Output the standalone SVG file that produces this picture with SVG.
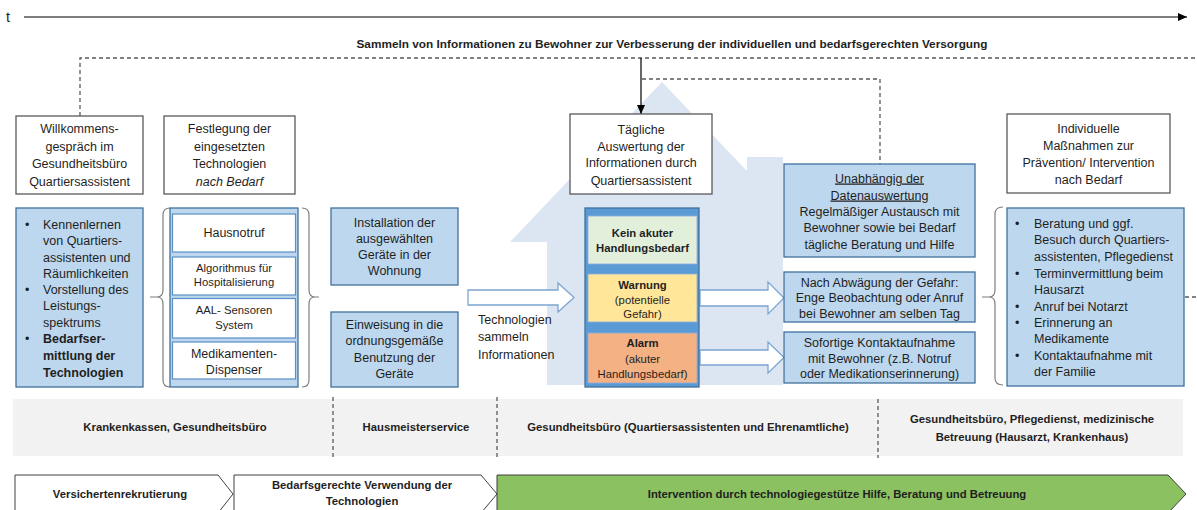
<svg xmlns="http://www.w3.org/2000/svg" width="1197" height="510" viewBox="0 0 1197 510">
<defs>
<style>
text{font-family:"Liberation Sans",Arial,sans-serif;fill:#1f1f1f;font-size:12.5px}
.c{text-anchor:middle}
.b{font-weight:bold}
.sm{font-size:11.3px}
.bt{font-size:11.3px;font-weight:bold;text-anchor:middle}
.wbox{fill:#fff;stroke:#595959;stroke-width:1.3}
.bbox{fill:#BDD7EE;stroke:#41719C;stroke-width:1.3}
.ibox{fill:#fff;stroke:#5B8FC7;stroke-width:1.2}
.dash{fill:none;stroke:#595959;stroke-width:1.3;stroke-dasharray:4 3}
.brace{fill:none;stroke:#7F7F7F;stroke-width:1.2}
.harrow{fill:#fff;stroke:#7CA5D1;stroke-width:1.3}
.chev{fill:#fff;stroke:#404040;stroke-width:1}
</style>
<marker id="ah" markerWidth="10" markerHeight="10" refX="9" refY="5" orient="auto" markerUnits="userSpaceOnUse">
<path d="M0,1 L9,5 L0,9 Z" fill="#000"/>
</marker>
</defs>

<!-- house background -->
<path d="M662,82 L510,242 L547,242 L547,385 L783,385 L783,157 L747,157 L747,171 Z" fill="#DCE6F2"/>

<!-- timeline -->
<g id="timeline">
<text x="6" y="22" style="font-size:14.5px">t</text>
<line x1="24" y1="17" x2="1187" y2="17" stroke="#000" stroke-width="1.2" marker-end="url(#ah)"/>
</g>

<text x="672" y="48" class="b c" style="font-size:11px" textLength="631" lengthAdjust="spacingAndGlyphs">Sammeln von Informationen zu Bewohner zur Verbesserung der individuellen und bedarfsgerechten Versorgung</text>

<!-- connectors -->
<g id="connectors">
<path class="dash" d="M80,116 L80,58 L1197,58"/>
<path class="dash" d="M642,79 L880,79 L880,164"/>
<line x1="641" y1="58" x2="641" y2="114" stroke="#000" stroke-width="1.2" marker-end="url(#ah)"/>
<path class="dash" d="M1185,297 L1197,297"/>
<path class="brace" d="M170,208 Q163,208 163,215 L163,290 Q163,297 157,297 L150,297 M157,297 Q163,297 163,304 L163,380 Q163,387 170,387"/>
<path class="brace" d="M302,208 Q309,208 309,215 L309,290 Q309,297 315,297 L319,297 M315,297 Q309,297 309,304 L309,380 Q309,387 302,387"/>
<path class="brace" d="M1003,207 Q995,207 995,214 L995,290 Q995,297 989,297 L982,297 M989,297 Q995,297 995,304 L995,378 Q995,385 1003,385"/>
<path class="harrow" d="M468,290 L558,290 L558,283 L574,297.5 L558,312 L558,305 L468,305 Z"/>
<path class="harrow" d="M700,290 L768,290 L768,282 L784,298 L768,314 L768,306 L700,306 Z"/>
<path class="harrow" d="M700,350 L768,350 L768,342 L784,357.5 L768,373 L768,365 L700,365 Z"/>
</g>

<!-- top row -->
<g id="willkommen">
<rect class="wbox" x="16" y="116" width="127" height="78"/>
<text class="c" x="79.5" y="133">Willkommens-</text>
<text class="c" x="79.5" y="150.5">gespräch im</text>
<text class="c" x="79.5" y="168">Gesundheitsbüro</text>
<text class="c" x="79.5" y="185.5">Quartiersassistent</text>
</g>
<g id="festlegung">
<rect class="wbox" x="164" y="116" width="131" height="78"/>
<text class="c" x="229.5" y="133">Festlegung der</text>
<text class="c" x="229.5" y="150.5">eingesetzten</text>
<text class="c" x="229.5" y="168">Technologien</text>
<text class="c" x="229.5" y="185.5" font-style="italic">nach Bedarf</text>
</g>
<g id="taegliche">
<rect class="wbox" x="570" y="114" width="142" height="80"/>
<text class="c" x="641" y="133.5">Tägliche</text>
<text class="c" x="641" y="150.5">Auswertung der</text>
<text class="c" x="641" y="167">Informationen durch</text>
<text class="c" x="641" y="184.5">Quartiersassistent</text>
</g>
<g id="individuelle">
<rect class="wbox" x="1007" y="114" width="163" height="79"/>
<text class="c" x="1088.5" y="132.5">Individuelle</text>
<text class="c" x="1088.5" y="149.5">Maßnahmen zur</text>
<text class="c" x="1088.5" y="166.5">Prävention/ Intervention</text>
<text class="c" x="1088.5" y="183.5">nach Bedarf</text>
</g>

<!-- left list -->
<g id="kennenlernen">
<rect class="bbox" x="16" y="208" width="127" height="179"/>
<text x="25" y="228.5">•</text>
<text x="43" y="228.5">Kennenlernen</text>
<text x="43" y="245">von Quartiers-</text>
<text x="43" y="261.5">assistenten und</text>
<text x="43" y="277.5">Räumlichkeiten</text>
<text x="25" y="294">•</text>
<text x="43" y="294">Vorstellung des</text>
<text x="43" y="310">Leistungs-</text>
<text x="43" y="326.5">spektrums</text>
<text x="25" y="343">•</text>
<text x="43" y="343" class="b">Bedarfser-</text>
<text x="43" y="360" class="b">mittlung der</text>
<text x="43" y="376.5" class="b">Technologien</text>
</g>

<!-- devices -->
<g id="geraete">
<rect class="bbox" x="170" y="208" width="128" height="179"/>
<rect class="ibox" x="172.5" y="214" width="123" height="38"/>
<text class="c" x="234" y="236.5">Hausnotruf</text>
<rect class="ibox" x="172.5" y="257" width="123" height="38"/>
<text class="c sm" x="234" y="271.5">Algorithmus für</text>
<text class="c sm" x="234" y="286">Hospitalisierung</text>
<rect class="ibox" x="172.5" y="298.5" width="123" height="39.5"/>
<text class="c sm" x="234" y="313.5">AAL- Sensoren</text>
<text class="c sm" x="234" y="329">System</text>
<rect class="ibox" x="172.5" y="342" width="123" height="37"/>
<text class="c" x="234" y="358">Medikamenten-</text>
<text class="c" x="234" y="374">Dispenser</text>
</g>

<g id="installation">
<rect class="bbox" x="331" y="208" width="127" height="77"/>
<text class="c" x="394.5" y="226.5">Installation der</text>
<text class="c" x="394.5" y="242.5">ausgewählten</text>
<text class="c" x="394.5" y="258.5">Geräte in der</text>
<text class="c" x="394.5" y="275">Wohnung</text>
</g>
<g id="einweisung">
<rect class="bbox" x="331" y="312" width="127" height="75"/>
<text class="c" x="394.5" y="328.5">Einweisung in die</text>
<text class="c" x="394.5" y="345">ordnungsgemäße</text>
<text class="c" x="394.5" y="361.5">Benutzung der</text>
<text class="c" x="394.5" y="377.5">Geräte</text>
</g>

<g id="sammeln-label">
<text x="478" y="323.5">Technologien</text>
<text x="478" y="341">sammeln</text>
<text x="478" y="358.5">Informationen</text>
</g>

<!-- status column -->
<g id="status">
<rect x="585" y="208" width="114" height="179" fill="#5B9BD5" stroke="#41719C" stroke-width="1.3"/>
<rect x="588" y="216" width="109" height="48" fill="#E2EFDA" stroke="#8FAADC" stroke-width="0.8"/>
<text class="bt" x="642.5" y="237">Kein akuter</text>
<text class="bt" x="642.5" y="251.5">Handlungsbedarf</text>
<rect x="588" y="274" width="109" height="48" fill="#FFE699" stroke="#8FAADC" stroke-width="0.8"/>
<text class="bt" x="642.5" y="289">Warnung</text>
<text class="c sm" x="642.5" y="304">(potentielle</text>
<text class="c sm" x="642.5" y="318">Gefahr)</text>
<rect x="588" y="333" width="109" height="50" fill="#F4B183" stroke="#8FAADC" stroke-width="0.8"/>
<text class="bt" x="642.5" y="347">Alarm</text>
<text class="c sm" x="642.5" y="362.5">(akuter</text>
<text class="c sm" x="642.5" y="377.5">Handlungsbedarf)</text>
</g>

<!-- right boxes -->
<g id="unabhaengig">
<rect class="bbox" x="784" y="164" width="191" height="93"/>
<text class="c" x="879.5" y="182.5" text-decoration="underline">Unabhängig der</text>
<text class="c" x="879.5" y="199.5" text-decoration="underline">Datenauswertung</text>
<text class="c" x="879.5" y="215.5">Regelmäßiger Austausch mit</text>
<text class="c" x="879.5" y="231.5">Bewohner sowie bei Bedarf</text>
<text class="c" x="879.5" y="248.5">tägliche Beratung und Hilfe</text>
</g>
<g id="abwaegung">
<rect class="bbox" x="784" y="272" width="191" height="50"/>
<text class="c" x="879.5" y="286.5">Nach Abwägung der Gefahr:</text>
<text class="c" x="879.5" y="302">Enge Beobachtung oder Anruf</text>
<text class="c" x="879.5" y="317.5">bei Bewohner am selben Tag</text>
</g>
<g id="sofortige">
<rect class="bbox" x="784" y="332" width="191" height="51"/>
<text class="c" x="879.5" y="346.5">Sofortige Kontaktaufnahme</text>
<text class="c" x="879.5" y="362.5">mit Bewohner (z.B. Notruf</text>
<text class="c" x="879.5" y="377.5">oder Medikationserinnerung)</text>
</g>

<g id="massnahmen">
<rect class="bbox" x="1007" y="208" width="177" height="178"/>
<text x="1015" y="227.5">•</text>
<text x="1034" y="227.5">Beratung und ggf.</text>
<text x="1034" y="244">Besuch durch Quartiers-</text>
<text x="1034" y="261">assistenten, Pflegedienst</text>
<text x="1015" y="277.5">•</text>
<text x="1034" y="277.5">Terminvermittlung beim</text>
<text x="1034" y="293.5">Hausarzt</text>
<text x="1015" y="310.5">•</text>
<text x="1034" y="310.5">Anruf bei Notarzt</text>
<text x="1015" y="326.5">•</text>
<text x="1034" y="326.5">Erinnerung an</text>
<text x="1034" y="342.5">Medikamente</text>
<text x="1015" y="359.5">•</text>
<text x="1034" y="359.5">Kontaktaufnahme mit</text>
<text x="1034" y="376">der Familie</text>
</g>

<!-- actors band -->
<g id="akteure">
<rect x="13" y="399" width="1170" height="57" fill="#F2F2F2"/>
<path class="dash" d="M333,397 L333,460 M497,397 L497,460 M878,399 L878,458"/>
<text class="bt" x="175" y="431">Krankenkassen, Gesundheitsbüro</text>
<text class="bt" x="416" y="431">Hausmeisterservice</text>
<text class="bt" x="688" y="431">Gesundheitsbüro (Quartiersassistenten und Ehrenamtliche)</text>
<text class="bt" x="1032" y="423">Gesundheitsbüro, Pflegedienst, medizinische</text>
<text class="bt" x="1032" y="441">Betreuung (Hausarzt, Krankenhaus)</text>
</g>

<!-- phases -->
<g id="phase1">
<path class="chev" d="M15,475 L218,475 L233,494 L218,513 L15,513 Z"/>
<text class="bt" x="120" y="497.5">Versichertenrekrutierung</text>
</g>
<g id="phase2">
<path class="chev" d="M234,475 L481,475 L497,494 L481,513 L234,513 Z"/>
<text class="bt" x="362" y="489">Bedarfsgerechte Verwendung der</text>
<text class="bt" x="362" y="505">Technologien</text>
</g>
<g id="phase3">
<path d="M497,475 L1168,475 L1186,494 L1168,513 L497,513 Z" fill="#8BC160" stroke="#404040" stroke-width="1"/>
<text class="bt" x="837" y="497.5">Intervention durch technologiegestütze Hilfe, Beratung und Betreuung</text>
</g>
</svg>
